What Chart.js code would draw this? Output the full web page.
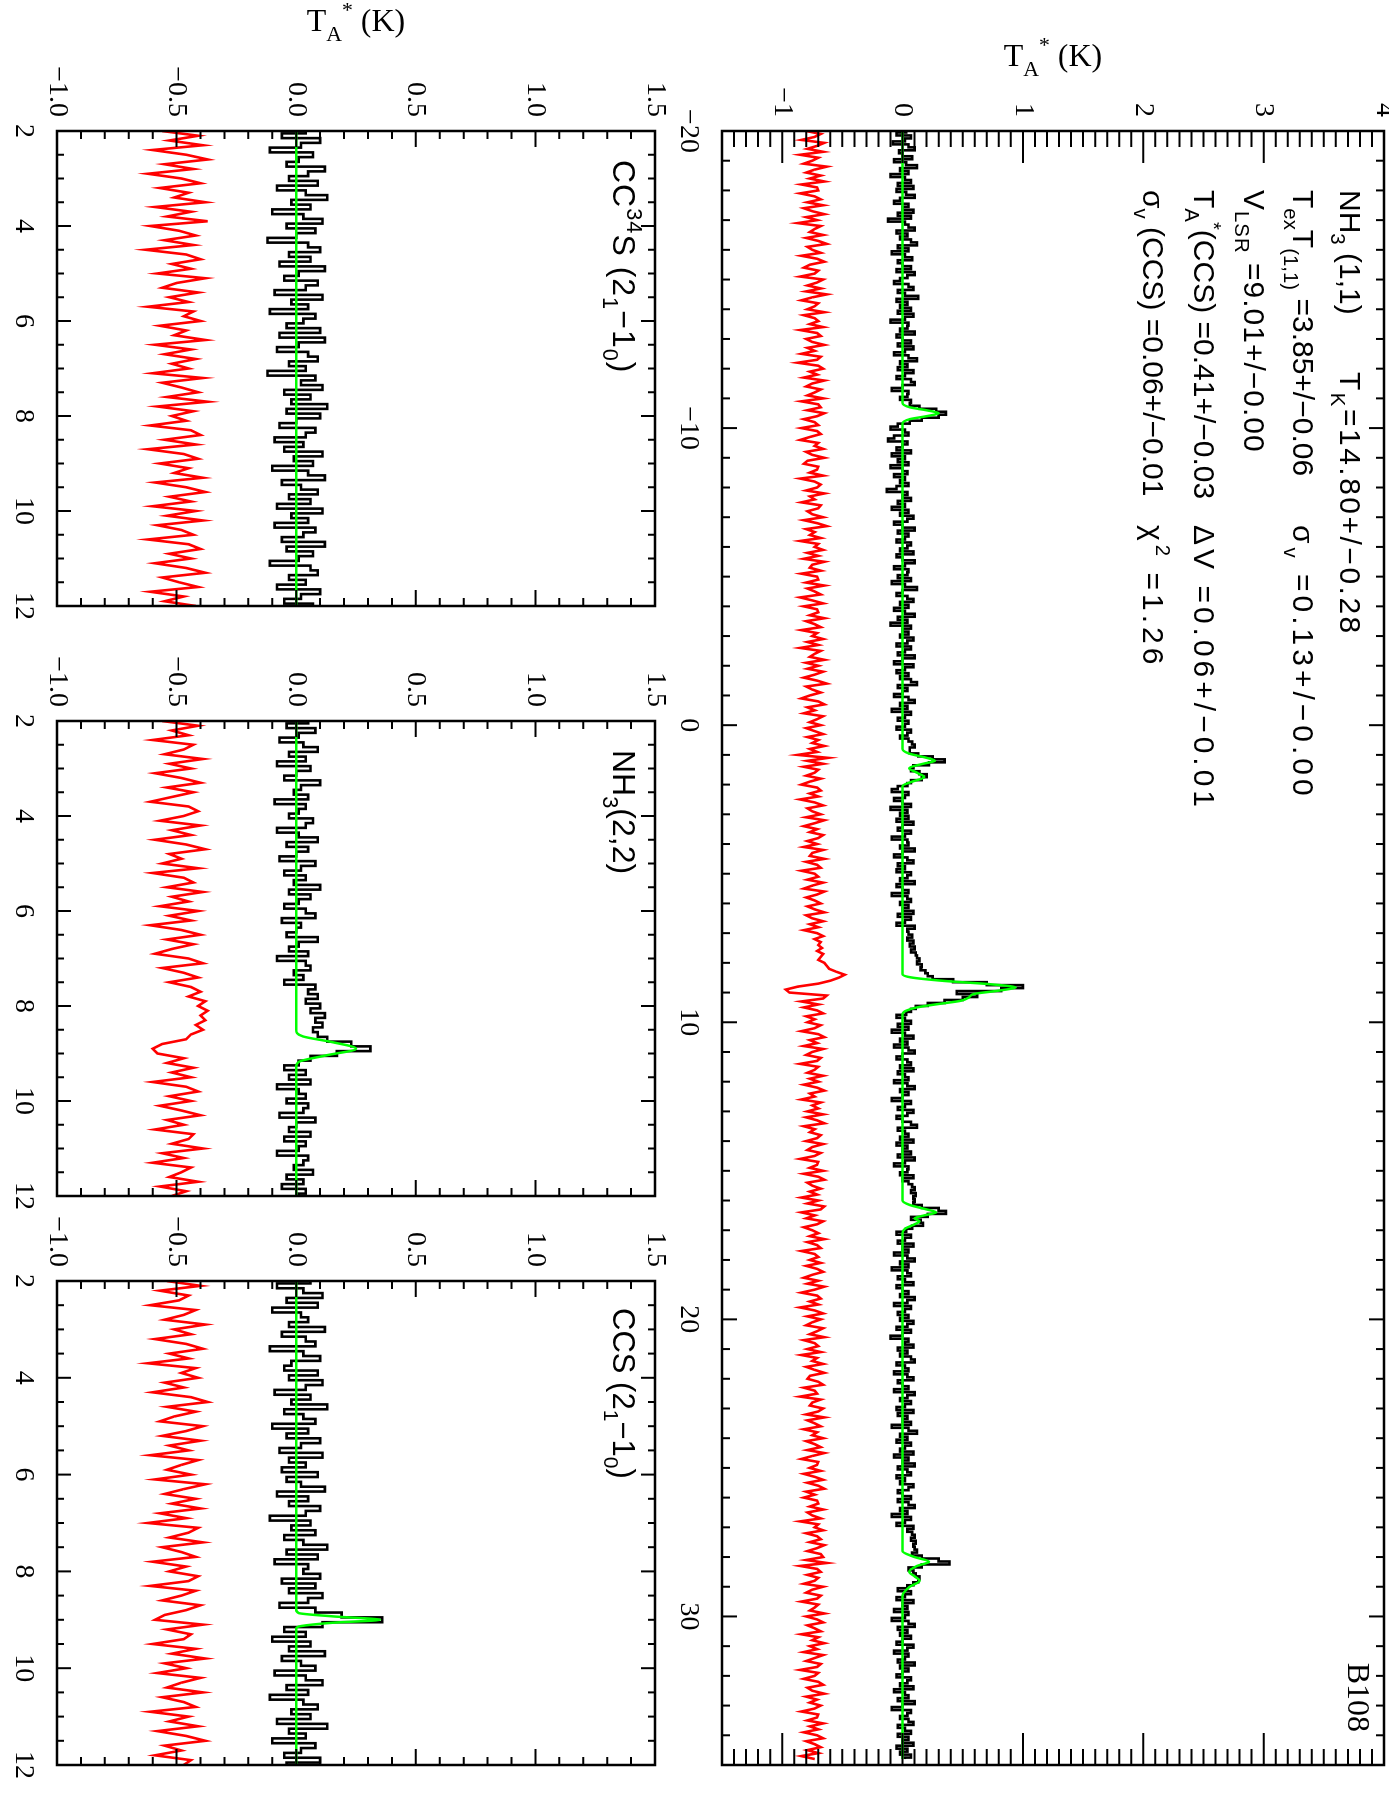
<!DOCTYPE html>
<html>
<head>
<meta charset="utf-8">
<script src="https://cdn.jsdelivr.net/npm/chart.js@4.4.0/dist/chart.umd.min.js"></script>
<style>
html, body { margin: 0; padding: 0; background: #fff; overflow: hidden; }
body { width: 1389px; height: 1797px; position: relative; }
/* the figure is drawn upright (1797 x 1389) and turned a quarter turn clockwise */
#page { position: absolute; left: 0; top: 0; width: 1797px; height: 1389px;
  transform-origin: 0 0; transform: translate(1389px, 0) rotate(90deg); }
#page canvas { position: absolute; left: -40px; top: -40px; }
</style>
</head>
<body>
<div id="page">
  <canvas id="main" width="1877" height="1469"></canvas>
  <canvas id="cc34s" width="1877" height="1469"></canvas>
  <canvas id="nh322" width="1877" height="1469"></canvas>
  <canvas id="ccs" width="1877" height="1469"></canvas>
</div>
<script>
// ---- data (spectra in units of 0.01 K, one value per channel) ----

// NH3 (1,1): channels from -20 km/s, 0.1 km/s wide
const nh311Start = -20, nh311Step = 0.1;
const nh311Obs = [
  3,-5,7,2,-8,5,10,-3,0,8,-7,3,12,-2,5,-10,2,7,-4,9,
  -5,3,10,-2,-7,5,0,9,-4,7,-12,2,5,10,-5,4,-2,7,12,-4,
  5,-9,2,8,-4,0,7,-5,10,4,-2,-7,5,9,-4,2,13,-5,4,-2,
  7,-4,9,2,-10,5,4,-2,10,-5,0,7,-4,9,2,-7,5,12,-2,4,
  -4,9,2,-5,7,10,0,-9,5,4,-2,7,6,14,28,36,30,16,6,-4,
  -10,2,5,-7,-12,4,0,-5,7,-9,2,-4,5,-10,0,4,-7,2,-2,5,
  -5,-13,4,0,7,-4,2,-9,5,-2,9,4,-7,0,10,-4,5,2,-5,7,
  4,-2,9,-5,0,10,2,-7,5,4,-4,7,-9,2,12,0,-5,4,9,-2,
  5,-7,2,10,-4,4,-10,7,0,5,-2,9,4,-5,7,2,-4,10,0,-7,
  9,2,-5,5,-2,7,12,-4,4,0,-7,5,10,-2,4,-9,7,2,-4,5,
  2,-5,7,4,-2,5,8,10,6,6,13,25,35,22,9,7,14,20,16,7,
  4,-4,-9,5,2,-7,0,7,-10,4,-2,5,-5,9,0,-4,7,2,-9,4,
  5,-2,10,0,-7,4,9,-4,2,-5,7,4,-2,10,-5,0,5,-9,4,7,
  -2,5,0,9,-4,7,2,-5,10,4,5,8,4,9,6,10,7,11,12,14,
  12,16,15,19,21,25,42,70,100,82,45,62,50,35,21,11,7,3,-5,2,
  7,-4,5,-9,2,9,-2,4,-7,5,10,0,-5,4,7,-2,9,-4,2,5,
  -7,4,10,-2,5,0,-9,7,2,-4,9,4,-5,0,7,12,-4,2,5,-2,
  9,-5,4,0,7,-4,10,2,-7,5,4,-2,9,0,5,8,10,7,11,9,
  10,9,16,30,36,21,7,15,17,8,3,-5,7,2,-4,9,0,5,-7,4,
  10,-2,5,-9,4,7,-4,2,9,-5,0,5,-2,10,4,-7,7,2,-4,5,
  -2,9,4,-5,7,0,-10,5,2,9,-4,4,-2,7,10,-5,2,5,-7,4,
  9,-4,0,5,-7,10,4,-2,7,2,-5,9,-4,4,0,7,-9,5,12,-2,
  4,-5,7,2,-2,9,-7,5,0,10,-4,4,7,-5,2,-2,9,5,-4,0,
  7,-4,5,10,-2,4,-9,7,2,-5,9,4,8,10,7,11,9,10,12,8,
  16,30,39,16,5,9,11,14,13,9,4,-4,7,2,-5,9,0,4,-7,5,
  2,-9,5,10,-4,4,-2,7,0,-5,9,4,-7,5,2,-4,10,-2,5,0,
  -5,7,4,-2,9,-7,2,5,-4,10,0,-9,7,4,-2,5,9,-4,2,7,
  -4,5,0,9,-5,4,-2,7,2
];
const nh311Resid = [
  -5,7,2,-9,10,4,-4,9,-10,5,0,-7,12,2,-5,7,-2,10,-9,4,
  5,-10,2,7,-4,9,-7,0,10,-5,4,-12,7,2,-2,9,-5,5,12,-4,
  0,7,-9,4,10,-2,-7,5,2,-10,9,4,-4,7,-5,12,0,-9,5,2,
  -4,10,-7,2,5,-2,9,-10,4,7,-5,0,10,-4,2,-9,7,4,-12,5,
  9,-2,4,-7,10,0,-5,7,2,-4,9,-9,5,7,-4,10,4,-7,2,5,
  -9,4,7,-2,-10,5,2,9,-5,0,10,-4,-7,5,4,-2,9,-10,2,7,
  4,-5,10,-2,2,-9,7,5,-4,0,9,-7,4,12,-5,2,-2,7,-10,5,
  2,9,-4,5,-7,10,0,-2,7,-9,4,5,-5,10,-4,2,7,-10,0,9,
  -7,4,5,-2,10,-5,2,7,-9,4,0,9,-4,5,-10,7,2,-2,10,-5,
  5,-4,9,2,-7,4,12,-5,0,7,-2,-9,5,10,-4,2,-7,9,4,-2,
  7,-5,2,9,-4,5,0,10,-2,4,-12,13,-4,9,-7,5,2,-5,7,-2,
  -9,4,7,-2,5,-10,2,9,-4,0,7,-5,10,2,-7,4,-2,9,5,-4,
  4,-7,9,0,-2,10,-5,4,7,-9,2,5,-4,9,0,-7,10,4,-5,2,
  7,-4,2,10,-5,0,9,-2,5,-7,4,9,2,7,5,8,4,9,7,5,
  10,12,14,20,27,22,15,5,-12,-22,-19,12,9,-9,5,-7,4,9,-5,2,
  -4,7,2,-9,5,10,-2,4,-7,9,0,-5,7,4,-10,5,2,-4,9,-2,
  5,-7,4,10,-2,2,-9,7,0,5,-4,9,-5,4,10,-7,2,-2,7,4,
  -5,9,0,-4,7,2,-10,5,4,-2,9,-7,5,10,-4,0,7,-2,4,-9,
  5,-4,10,7,-9,2,-5,9,4,-7,0,5,-2,10,-4,4,7,-9,2,5,
  -2,7,-5,4,9,0,-7,5,-4,10,2,-9,4,7,-2,5,-10,2,9,-4,
  7,0,-5,9,4,-2,10,-7,2,5,-4,7,-9,4,0,9,-5,2,10,-2,
  -4,5,9,-7,2,4,-10,7,0,-2,9,5,-5,10,-4,2,7,-7,4,0,
  9,-5,2,7,-4,10,0,-9,5,4,-2,7,-7,2,9,-4,5,10,-5,2,
  -7,4,5,-2,9,-4,0,7,-10,5,2,9,-5,4,7,-2,10,4,-4,7,
  9,-5,12,-10,4,7,-4,5,2,-7,9,0,-5,7,4,-9,5,2,-2,10,
  -5,4,9,-4,2,7,-9,5,0,10,-2,4,-7,9,2,-5,7,4,-10,5,
  2,-7,5,9,-4,0,10,-5,4,-2,7,2,-9,5,4,-4,9,-2,5,-7,
  4,9,-5,2,7,-4,5,-9,2
];
// hyperfine model (K)
const nh311FitV = [-20,-10.85,-10.7,-10.6,-10.5,-10.4,-10.3,-10.15,
  0.8,0.95,1.1,1.2,1.3,1.45,1.6,1.75,1.9,2.05,
  8.38,8.49,8.61,8.72,8.83,8.94,9.05,9.17,9.28,9.39,9.5,9.61,9.72,
  16.0,16.15,16.3,16.4,16.5,16.6,16.7,16.8,16.95,17.1,
  27.8,28.0,28.16,28.3,28.5,28.65,28.8,29.0,29.3,34.8];
const nh311FitT = [0,0,0.06,0.2,0.3,0.2,0.06,0,
  0,0.05,0.2,0.27,0.17,0.055,0.12,0.18,0.08,0,
  0,0.07,0.35,0.73,0.94,0.79,0.59,0.55,0.48,0.29,0.12,0.03,0,
  0,0.06,0.2,0.28,0.18,0.1,0.14,0.1,0.02,0,
  0,0.1,0.22,0.12,0.055,0.1,0.14,0.06,0,0];

// CC34S (2_1-1_0): channels from 2 km/s, 0.1 km/s wide
const cc34sStart = 2, cc34sStep = 0.1;
const cc34sObs = [
  4,-6,10,2,-11,7,1,-4,12,5,-3,9,-8,4,13,-2,6,-10,3,11,
  -4,8,0,-12,5,10,-3,6,-7,12,1,-5,9,4,-9,11,-2,5,-11,8,
  3,-4,10,-7,12,1,-8,5,9,-3,4,-12,8,2,11,-5,6,-2,13,-4,
  10,0,-7,8,4,-9,3,-5,11,-1,7,-10,5,12,-6,2,9,-3,6,-8,
  11,-2,5,-9,8,3,-6,12,-4,7,1,-11,6,9,-3,4,-8,10,2,-5,7
];
const cc34sResid = [
  -6,9,-3,11,-10,4,13,-5,7,-12,2,10,-7,5,-1,12,-9,6,-4,13,
  -11,1,8,-5,7,-13,4,10,-2,6,-8,12,0,-6,9,-3,5,-12,7,3,
  10,-7,4,-1,12,-9,6,-5,8,-2,5,-10,11,-6,2,9,-4,13,-8,7,
  -2,4,-11,6,10,-5,8,-12,3,9,-7,5,-1,11,-9,4,12,-3,6,-10,
  8,-4,11,-8,2,7,-12,5,10,-3,6,-9,4,12,-6,1,9,-11,3,-5,8
];
const cc34sFitV = [2, 12];
const cc34sFitT = [0, 0];

// NH3 (2,2): channels from 2 km/s, 0.1 km/s wide
const nh322Start = 2, nh322Step = 0.1;
const nh322Obs = [
  5,-4,8,1,-7,3,9,-3,4,-8,6,0,-5,10,2,-1,5,-9,4,1,
  -3,7,4,-8,1,9,-4,5,0,-7,8,2,-5,4,-1,10,-3,6,1,-5,
  4,8,-6,2,0,-4,9,1,-3,5,-8,4,6,-1,3,-5,8,5,9,4,
  10,6,12,8,11,7,9,13,23,31,17,6,1,-5,4,-3,6,-8,1,4,
  -4,5,3,-7,8,0,-3,6,-5,4,1,-8,5,3,-1,7,-4,3,-6,4,1
];
const nh322Resid = [
  -6,9,-2,5,-10,7,3,-5,11,-3,6,-9,2,10,-4,7,-2,-11,5,9,
  3,-7,10,-2,6,-9,4,12,-3,2,-6,9,-10,3,7,-4,11,-2,5,-7,
  9,-3,6,-11,2,10,-4,7,-2,-9,5,11,-6,3,9,-3,6,10,5,12,
  9,13,10,12,8,11,6,4,-6,-10,-8,3,-4,7,-2,6,-10,4,9,-3,
  6,-7,2,10,-4,3,-9,7,5,-2,11,-6,3,-10,6,2,-3,9,-7,4,-2
];
const nh322FitV = [2, 8.5, 8.64, 8.76, 8.9, 9.04, 9.18, 9.3, 12];
const nh322FitT = [0, 0, 0.028, 0.15, 0.25, 0.125, 0.01, 0, 0];

// CCS (2_1-1_0): channels from 2 km/s, 0.1 km/s wide
const ccsStart = 2, ccsStep = 0.1;
const ccsObs = [
  6,-8,3,11,-4,9,-10,2,5,-3,12,-6,4,8,-11,3,10,-2,-5,9,
  -3,11,4,-9,6,-2,13,-5,3,8,-10,5,-4,10,2,-7,11,-3,4,-6,
  9,-4,2,12,-8,5,-3,10,4,-11,6,-2,8,-5,3,13,-4,9,-9,5,
  3,10,-6,8,-3,11,5,-7,8,19,36,11,-5,4,-10,6,-3,12,-6,2,
  8,-9,4,11,-4,5,-11,3,9,-2,6,-8,13,-3,4,-10,8,2,-5,10,-4
];
const ccsResid = [
  -4,10,-7,5,1,-11,8,3,-5,12,-1,6,-9,4,11,-3,5,-12,8,2,
  9,-5,3,-10,6,13,-4,8,-1,-7,11,4,-6,10,-3,5,-11,9,2,-4,
  6,-9,12,3,-5,8,-2,10,-7,4,-12,9,5,-3,11,-6,2,8,-10,4,
  -3,9,5,-11,8,2,-6,10,4,-5,-9,11,-4,6,3,-10,8,-2,12,-5,
  4,-8,10,2,-4,11,-6,3,8,-11,5,-3,9,-8,4,12,-5,2,-9,6,3
];
const ccsFitV = [2, 8.79, 8.86, 8.93, 9.0, 9.06, 9.13, 9.18, 12];
const ccsFitT = [0, 0, 0.01, 0.155, 0.35, 0.155, 0.02, 0, 0];

// tick labels
const mainVelTicks = [-20, -10, 0, 10, 20, 30];
const mainTempTicks = [-1, 0, 1, 2, 3, 4];
const subVelTicks = [2, 4, 6, 8, 10, 12];
const subTempTicks = [-1.0, -0.5, 0.0, 0.5, 1.0, 1.5];

// ---- drawing ----
const M = 40;                       // spare margin round the page in each canvas
const PAGE_W = 1797, PAGE_H = 1389; // upright page
const XAXIS_H = 70;
const MAIN_OFFSET = -0.75, SUB_OFFSET = -0.5;  // residuals are shifted down

function channels(start, step, vals, offset) {
  return vals.map((t, i) => ({ x: +(start + i * step).toFixed(3), y: t / 100 + offset }));
}
function model(vs, ts) {
  return vs.map((v, i) => ({ x: v, y: ts[i] }));
}
const minus = s => String(s).replace('-', '\u2212');

function drawRich(ctx, parts, x, y, size, family, ls, measureOnly) {
  let w = 0;
  ctx.letterSpacing = (ls || 0) + 'px';
  for (const [t, kind] of parts) {
    const s = kind ? size * 0.68 : size;
    ctx.font = s + 'px "' + family + '"';
    const dy = kind === 'sub' ? size * 0.3 : kind === 'sup' ? -size * 0.45 : 0;
    if (!measureOnly) ctx.fillText(t, x + w, y + dy);
    w += ctx.measureText(t).width;
  }
  ctx.letterSpacing = '0px';
  return w;
}

const SANS = 'Liberation Sans', SERIF = 'Liberation Serif';
const TA = [['T'], ['A', 'sub'], ['*', 'sup'], [' (K)']];
const AS = 30;   // annotation size

// text drawn on each panel, page coordinates of the upright figure
const panelTexts = {
  main: [
    { x: 66, y: 336, rotate: true, parts: TA, size: 32, family: SERIF },
    { x: 190, y: 49, parts: [['NH'], ['3', 'sub'], [' (1,1)']], size: AS, family: SANS },
    { x: 372, y: 49, ls: 2.5, parts: [['T'], ['K', 'sub'], ['=14.80+/\u22120.28']], size: AS, family: SANS },
    { x: 190, y: 96, parts: [['T'], ['ex', 'sub'], ['T'], ['(1,1)', 'sub'], [' =3.85+/\u22120.06']], size: AS, family: SANS },
    { x: 525, y: 96, ls: 4, parts: [['\u03c3'], ['v', 'sub'], [' =0.13+/\u22120.00']], size: AS, family: SANS },
    { x: 190, y: 145, ls: 1, parts: [['V'], ['LSR', 'sub'], [' =9.01+/\u22120.00']], size: AS, family: SANS },
    { x: 190, y: 195, parts: [['T'], ['A', 'sub'], ['*', 'sup'], ['(CCS) =0.41+/\u22120.03']], size: AS, family: SANS },
    { x: 525, y: 195, ls: 4, parts: [['\u0394V =0.06+/\u22120.01']], size: AS, family: SANS },
    { x: 190, y: 246, parts: [['\u03c3'], ['v', 'sub'], [' (CCS) =0.06+/\u22120.01']], size: AS, family: SANS },
    { x: 525, y: 246, ls: 4, parts: [['\u03c7'], ['2', 'sup'], [' =1.26']], size: AS, family: SANS },
    { x: 1732, y: 41, align: 'right', parts: [['B108']], size: 32, family: SERIF }
  ],
  cc34s: [
    { x: 31, y: 1033, rotate: true, parts: TA, size: 32, family: SERIF },
    { x: 160, y: 776, ls: 1, parts: [['CC'], ['34', 'sup'], ['S (2'], ['1', 'sub'], ['\u22121'], ['0', 'sub'], [')']], size: 32, family: SANS }
  ],
  nh322: [
    { x: 750, y: 776, parts: [['NH'], ['3', 'sub'], ['(2,2)']], size: 32, family: SANS }
  ],
  ccs: [
    { x: 1308, y: 776, parts: [['CCS (2'], ['1', 'sub'], ['\u22121'], ['0', 'sub'], [')']], size: 31, family: SANS }
  ]
};

const framePlugin = {
  id: 'frame',
  afterDatasetsDraw(chart, args, o) {
    const { ctx, chartArea: a, scales: { x, y } } = chart;
    ctx.save();
    ctx.strokeStyle = '#000';
    ctx.lineWidth = 2;
    ctx.beginPath();
    const nx = Math.round((x.max - x.min) / o.xMinor);
    for (let k = 0; k <= nx; k++) {
      const v = x.min + k * o.xMinor;
      const major = Math.abs(v / o.xMajor - Math.round(v / o.xMajor)) < 1e-6;
      const len = major ? o.xLen[1] : o.xLen[0];
      const px = x.getPixelForValue(v);
      ctx.moveTo(px, a.bottom); ctx.lineTo(px, a.bottom - len);
      ctx.moveTo(px, a.top); ctx.lineTo(px, a.top + len);
    }
    const ny = Math.round((y.max - y.min) / o.yMinor);
    for (let k = 0; k <= ny; k++) {
      const v = y.min + k * o.yMinor;
      const major = Math.abs(v / o.yMajor - Math.round(v / o.yMajor)) < 1e-6;
      const len = major ? o.yLen[1] : o.yLen[0];
      const py = y.getPixelForValue(v);
      ctx.moveTo(a.left, py); ctx.lineTo(a.left + len, py);
      ctx.moveTo(a.right, py); ctx.lineTo(a.right - len, py);
    }
    ctx.stroke();
    ctx.lineWidth = 2.5;
    ctx.strokeRect(a.left, a.top, a.right - a.left, a.bottom - a.top);

    ctx.fillStyle = '#000';
    ctx.textBaseline = 'alphabetic';
    ctx.textAlign = 'left';
    for (const t of panelTexts[chart.canvas.id] || []) {
      const tx = t.x + M, ty = t.y + M;
      if (t.rotate) {
        ctx.save();
        ctx.translate(tx, ty);
        ctx.rotate(-Math.PI / 2);
        const w = drawRich(ctx, t.parts, 0, 0, t.size, t.family, t.ls, true);
        drawRich(ctx, t.parts, -w / 2, 0, t.size, t.family, t.ls);
        ctx.restore();
      } else {
        let sx = tx;
        if (t.align === 'right') sx -= drawRich(ctx, t.parts, 0, 0, t.size, t.family, t.ls, true);
        drawRich(ctx, t.parts, sx, ty, t.size, t.family, t.ls);
      }
    }
    ctx.restore();
  }
};

function spectra(obs, resid, fitV, fitT, start, step, offset) {
  return [
    { data: model(fitV, fitT), borderColor: '#00ff00', borderWidth: 2.5,
      cubicInterpolationMode: 'monotone', order: 0 },
    { data: channels(start, step, obs, 0), borderColor: '#000000', borderWidth: 2.6,
      stepped: 'middle', order: 1 },
    { data: channels(start, step, resid, offset), borderColor: '#ff0000', borderWidth: 2.6, order: 2 }
  ];
}

function panel(id, area, xr, yr, xTicks, yTicks, fmtX, fmtY, datasets, frame) {
  return new Chart(document.getElementById(id), {
    type: 'line',
    data: { datasets },
    options: {
      responsive: false,
      animation: false,
      devicePixelRatio: 1,
      events: [],
      layout: {
        autoPadding: false,
        padding: { left: 0, top: area.top + M, right: PAGE_W + M - area.right,
                   bottom: PAGE_H + M - area.bottom - XAXIS_H }
      },
      elements: { point: { radius: 0 } },
      plugins: { legend: { display: false }, tooltip: { enabled: false }, frame },
      scales: {
        x: {
          type: 'linear', min: xr[0], max: xr[1],
          afterBuildTicks: s => { s.ticks = xTicks.map(v => ({ value: v })); },
          afterFit: s => { s.height = XAXIS_H; },
          grid: { display: false, drawTicks: false },
          border: { display: false },
          ticks: { padding: 17, autoSkip: false, maxRotation: 0, minRotation: 0, color: '#000',
                   font: { family: SERIF, size: 28 }, callback: fmtX }
        },
        y: {
          type: 'linear', min: yr[0], max: yr[1],
          afterBuildTicks: s => { s.ticks = yTicks.map(v => ({ value: v })); },
          afterFit: s => { s.width = area.left + M; },
          grid: { display: false, drawTicks: false },
          border: { display: false },
          ticks: { padding: 14, autoSkip: false, color: '#000',
                   font: { family: SERIF, size: 28 }, callback: fmtY }
        }
      }
    },
    plugins: [framePlugin]
  });
}

const mainFrame = { xMinor: 1, xMajor: 10, xLen: [8, 15], yMinor: 0.1, yMajor: 1, yLen: [16, 32] };
const subFrame = { xMinor: 0.5, xMajor: 2, xLen: [7, 14], yMinor: 0.1, yMajor: 0.5, yLen: [8, 16] };
const subT = v => minus(v.toFixed(1));

panel('main', { left: 131, right: 1765, top: 5, bottom: 667 }, [-20, 35], [-1.5, 4],
  mainVelTicks, mainTempTicks, v => minus(v), v => minus(v),
  spectra(nh311Obs, nh311Resid, nh311FitV, nh311FitT, nh311Start, nh311Step, MAIN_OFFSET), mainFrame);

panel('cc34s', { left: 131, right: 606, top: 734, bottom: 1332 }, [2, 12], [-1.0, 1.5],
  subVelTicks, subTempTicks, v => minus(v), subT,
  spectra(cc34sObs, cc34sResid, cc34sFitV, cc34sFitT, cc34sStart, cc34sStep, SUB_OFFSET), subFrame);

panel('nh322', { left: 721, right: 1196, top: 734, bottom: 1332 }, [2, 12], [-1.0, 1.5],
  subVelTicks, subTempTicks, v => minus(v), subT,
  spectra(nh322Obs, nh322Resid, nh322FitV, nh322FitT, nh322Start, nh322Step, SUB_OFFSET), subFrame);

panel('ccs', { left: 1281, right: 1765, top: 734, bottom: 1332 }, [2, 12], [-1.0, 1.5],
  subVelTicks, subTempTicks, v => minus(v), subT,
  spectra(ccsObs, ccsResid, ccsFitV, ccsFitT, ccsStart, ccsStep, SUB_OFFSET), subFrame);
</script>
</body>
</html>
